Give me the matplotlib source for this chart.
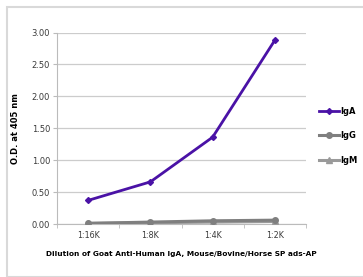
import numpy as np
import matplotlib

matplotlib.use("Agg")
import matplotlib.pyplot as plt
from matplotlib.patches import Rectangle

# Data
dilutions = ["1:16K", "1:8K", "1:4K", "1:2K"]
iga = [0.37, 0.66, 1.36, 2.88]
igg = [0.01, 0.03, 0.05, 0.06]
igm = [0.01, 0.02, 0.03, 0.04]
y_ticks = [0.0, 0.5, 1.0, 1.5, 2.0, 2.5, 3.0]

fig = plt.figure(figsize=(3.63, 2.77), dpi=100)
fig.patches.append(Rectangle((7 / 363, 0.0), 1.0, 1 - 7 / 277, transform=fig.transFigure,
                             fill=False, edgecolor="#d9d9d9", linewidth=1.5))

ax = fig.add_axes([57 / 363, 1 - 224 / 277, (306 - 57) / 363, (224 - 32.5) / 277])
x = np.arange(len(dilutions))

ax.plot(x, igm, color="#9a9a9a", lw=2.2, marker="^", ms=4, label="IgM", zorder=3)
ax.plot(x, igg, color="#7f7f7f", lw=2.2, marker="o", ms=4, label="IgG", zorder=3)
ax.plot(x, iga, color="#4a12a6", lw=2.0, marker="D", ms=3, label="IgA", zorder=4)

ax.set_xlim(-0.5, len(dilutions) - 0.5)
ax.set_ylim(0, 3.0)
ax.set_yticks(y_ticks)
ax.set_yticklabels([f"{v:.2f}" for v in y_ticks], fontsize=6, color="#3a3a3a")
ax.set_xticks(x)
ax.set_xticklabels(dilutions, fontsize=5.8, color="#3a3a3a")
ax.set_xticks(np.arange(-0.5, len(dilutions)), minor=True)
ax.tick_params(axis="x", which="major", length=0, pad=5)
ax.tick_params(axis="x", which="minor", length=3, color="#bbbbbb")
ax.tick_params(axis="y", length=3, color="#bbbbbb", pad=2)
ax.grid(axis="y", color="#cccccc", lw=0.9)
ax.set_axisbelow(True)
for s in ["top", "right"]:
    ax.spines[s].set_visible(False)
for s in ["left", "bottom"]:
    ax.spines[s].set_color("#bbbbbb")

ax.set_ylabel("O.D. at 405 nm", fontsize=6, fontweight="bold", labelpad=8)
ax.set_xlabel("Dilution of Goat Anti-Human IgA, Mouse/Bovine/Horse SP ads-AP",
              fontsize=5.3, fontweight="bold", labelpad=8)

handles, labels = ax.get_legend_handles_labels()
order = [2, 1, 0]
leg = ax.legend([handles[i] for i in order], [labels[i] for i in order],
                loc="center left", bbox_to_anchor=(1.022, 0.46), frameon=False,
                handlelength=2.4, handletextpad=0.15, labelspacing=1.9,
                prop={"weight": "bold", "size": 6})

fig.savefig("out.png", dpi=100)
